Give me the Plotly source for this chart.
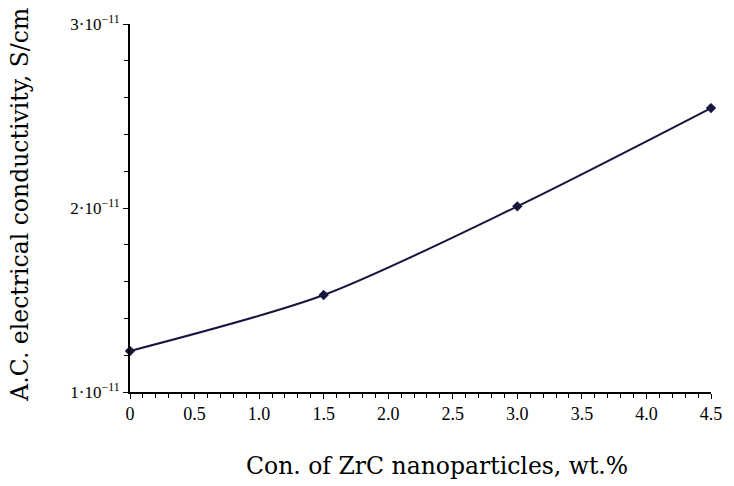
import plotly.graph_objects as go

# Data
conc = [0, 1.5, 3.0, 4.5]  # wt.%
conductivity = [1.223e-11, 1.527e-11, 2.009e-11, 2.543e-11]  # S/cm

x_tickvals = [0, 0.5, 1.0, 1.5, 2.0, 2.5, 3.0, 3.5, 4.0, 4.5]
x_ticktext = ["0", "0.5", "1.0", "1.5", "2.0", "2.5", "3.0", "3.5", "4.0", "4.5"]
y_tickvals = [1e-11, 2e-11, 3e-11]
y_ticktext = ["1·10<sup>−11</sup>", "2·10<sup>−11</sup>", "3·10<sup>−11</sup>"]
x_title = "Con. of ZrC nanoparticles, wt.%"
y_title = "A.C. electrical conductivity, S/cm"

col = "#16163f"

fig = go.Figure()
fig.add_trace(go.Scatter(
    x=conc, y=conductivity, mode="lines+markers",
    line=dict(color=col, width=2, shape="spline", smoothing=0.8),
    marker=dict(symbol="diamond", size=8, color=col),
    showlegend=False, cliponaxis=False,
))

fig.update_layout(
    width=734, height=486,
    margin=dict(l=130, r=15, t=22, b=94),
    plot_bgcolor="white", paper_bgcolor="white",
    font=dict(family="Liberation Serif", color="black"),
    xaxis=dict(
        range=[0, 4.5], tickvals=x_tickvals, ticktext=x_ticktext,
        showgrid=False, zeroline=False, showline=True, linecolor="black", linewidth=1.5,
        ticks="outside", ticklen=5, tickwidth=1, tickcolor="black",
        tickfont=dict(size=18, family="Liberation Serif"),
        minor=dict(ticks="outside", dtick=0.1, ticklen=4, tickwidth=1, tickcolor="black"),
    ),
    yaxis=dict(
        range=[1e-11, 3e-11], tickvals=y_tickvals, ticktext=y_ticktext,
        showgrid=False, zeroline=False, showline=True, linecolor="black", linewidth=2,
        ticks="outside", ticklen=5, tickwidth=1, tickcolor="black",
        tickfont=dict(size=17, family="Liberation Serif"),
        minor=dict(ticks="outside", dtick=0.2e-11, ticklen=4, tickwidth=1, tickcolor="black"),
    ),
    annotations=[
        dict(text=x_title, xref="paper", yref="paper", x=0.528, y=-0.2,
             xanchor="center", yanchor="middle", showarrow=False,
             font=dict(size=23.5, family="DejaVu Serif", color="black")),
        dict(text=y_title, xref="paper", yref="paper", x=-0.19, y=0.508,
             xanchor="center", yanchor="middle", showarrow=False, textangle=-90,
             font=dict(size=23.5, family="DejaVu Serif", color="black")),
    ],
)

fig.write_html("out.html")
